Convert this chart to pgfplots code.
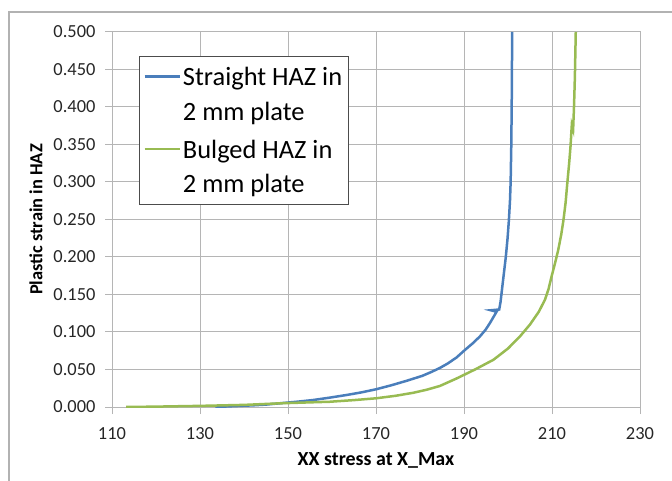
\documentclass[border=0pt]{standalone}
\usepackage{pgfplots}
\pgfplotsset{compat=1.18}
\usepackage{fontspec}
\setmainfont{Carlito}
\definecolor{serblue}{HTML}{4A7EBB}
\definecolor{sergreen}{HTML}{98BB52}
\definecolor{gridgray}{HTML}{B5B5B5}
\begin{document}
\begin{tikzpicture}
\path[use as bounding box] (0,0) rectangle (672bp,481bp);
\draw[gray!60, line width=1.2bp] (9bp,0) -- (9bp,469bp) -- (672bp,469bp);
\begin{axis}[
  at={(112bp,74bp)}, anchor=south west,
  scale only axis, width=528bp, height=375bp,
  xmin=110, xmax=230, ymin=0, ymax=0.5,
  xtick={110,130,150,170,190,210,230},
  ytick={0,0.05,0.1,0.15,0.2,0.25,0.3,0.35,0.4,0.45,0.5},
  grid=major, major grid style={gridgray, line width=1bp},
  axis line style={gridgray, line width=1bp},
  tick style={gridgray, line width=1bp},
  tick align=outside, major tick length=7bp,
  xtick pos=left, ytick pos=left,
  /pgf/number format/assume math mode=true,
  tick label style={font=\fontsize{18.5}{22}\selectfont, text=black!85},
  yticklabel style={/pgf/number format/.cd, fixed, fixed zerofill, precision=3, /tikz/.cd, xshift=-6bp},
  xticklabel style={/pgf/number format/.cd, fixed, precision=0, /tikz/.cd, yshift=-10bp},
  scaled y ticks=false,
  xlabel={XX stress at X\_Max},
  ylabel={Plastic strain in HAZ},
  xlabel style={font=\bfseries\fontsize{20}{24}\selectfont, at={(axis description cs:0.5,-0.1413)}, anchor=center},
  ylabel style={font=\bfseries\fontsize{18.5}{22}\selectfont, at={(axis description cs:-0.1439,0.5)}, anchor=center, rotate=0},
  legend style={at={(0.0511,0.936)}, anchor=north west, draw=black!70, line width=1bp,
    font=\fontsize{26.5}{33}\selectfont, row sep=14bp, inner xsep=4bp, inner ysep=9bp,
    nodes={align=left, inner sep=2bp, font=\fontsize{26.5}{33}\selectfont}},
  legend cell align=left,
  legend image code/.code={\draw[#1] (0bp,18bp) -- (35bp,18bp);},
]
\addplot[serblue, line width=2.5bp] coordinates {
(133.5,0.000) (138,0.0012) (142,0.0022) (145,0.0032) (148.2,0.0050) (152,0.0070)
(155.7,0.0093) (159.5,0.0125) (163.3,0.016) (166.7,0.0195) (170,0.0236)
(173.5,0.029) (177,0.035) (180.5,0.0415) (182.5,0.0465) (184.5,0.052)
(186.3,0.058) (188.3,0.066) (190.2,0.076) (192,0.085) (193.6,0.094)
(194.9,0.103) (195.9,0.112) (196.7,0.120) (197.4,0.127) (196.1,0.129)
(198.0,0.130) (198.3,0.140) (198.7,0.160) (199.1,0.180) (199.5,0.200)
(199.9,0.225) (200.2,0.249) (200.45,0.275) (200.6,0.300) (200.75,0.350)
(200.85,0.409) (200.95,0.500)
};
\addlegendentry{Straight HAZ in\\[1.5bp]2 mm plate}
\addplot[sergreen, line width=2.5bp] coordinates {
(113.2,0.000) (120,0.0005) (130,0.0015) (140,0.0028) (148.2,0.0049) (154,0.006)
(159.5,0.007) (165,0.0092) (170,0.0116) (174.5,0.015) (178.5,0.019)
(181.5,0.023) (184.5,0.028) (188.3,0.038) (192.5,0.050) (196.7,0.063)
(200,0.078) (202.7,0.094) (205,0.110) (207,0.127) (208.4,0.143)
(209.2,0.157) (209.9,0.174) (210.7,0.192) (211.4,0.209) (212.1,0.230)
(212.6,0.249) (213.1,0.273) (213.5,0.300) (213.9,0.325) (214.2,0.347)
(214.5,0.376) (214.8,0.370) (215.0,0.400) (215.2,0.440) (215.4,0.500)
};
\addlegendentry{Bulged HAZ in\\[1.5bp]2 mm plate}
\end{axis}
\end{tikzpicture}
\end{document}
